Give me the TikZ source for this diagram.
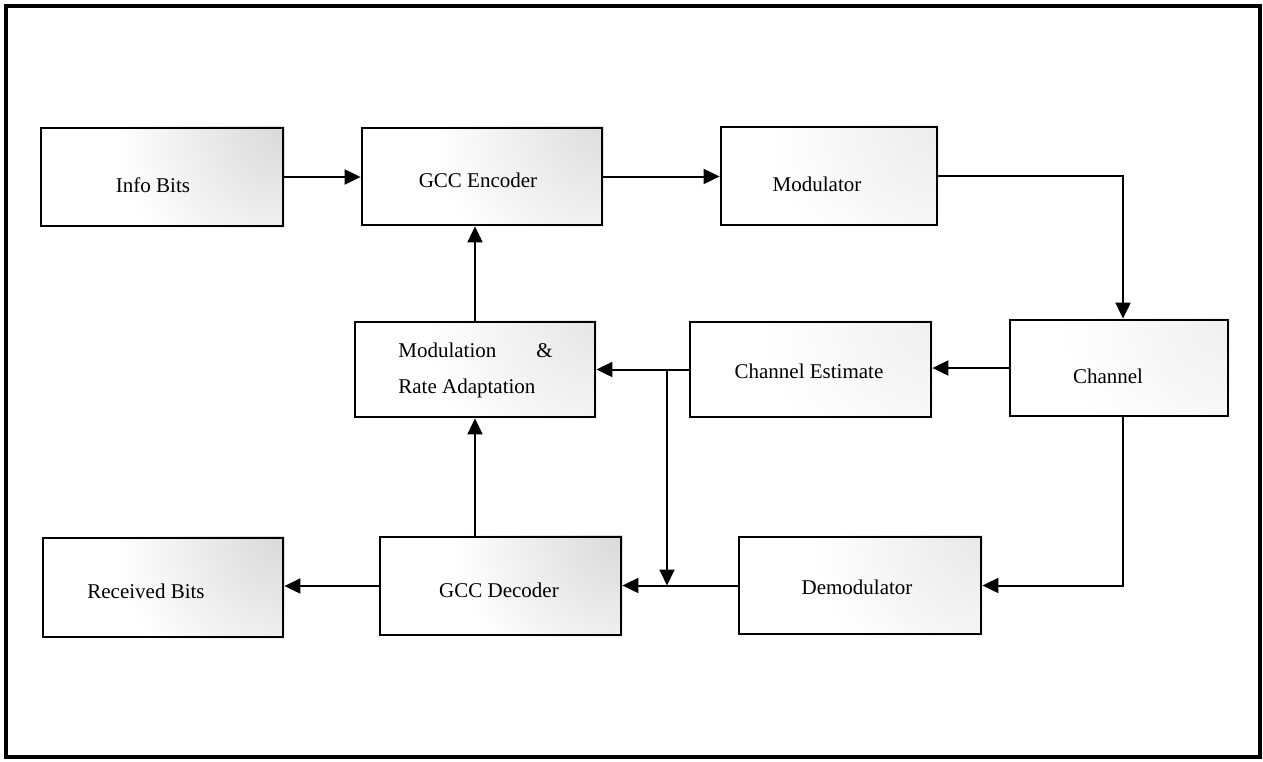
\documentclass[tikz,border=0pt]{standalone}
\usepackage{fontspec}
\setmainfont{Liberation Serif}
\usetikzlibrary{arrows.meta,calc,backgrounds}
\tikzset{
  blk/.style={draw, line width=1.4pt, rectangle, inner sep=0pt},
  lbl/.style={font=\fontsize{10.5}{12}\selectfont, inner sep=0pt, anchor=base},
  lblw/.style={font=\fontsize{10.5}{12}\selectfont, inner sep=0pt, anchor=base west},
  conn/.style={line width=1pt, -{Triangle[length=8pt,width=7.5pt]}},
  frame/.style={line width=1.6pt},
}
\newcommand{\stipple}[2]{%
  \begin{scope}
    \clip (#1.south west) rectangle (#1.north east);
    \shade[inner color=gray!#2, outer color=white] (#1.north east) circle (85pt);
  \end{scope}}
\begin{document}
\begin{tikzpicture}[x=0.5pt,y=-0.5pt]
\useasboundingbox (0,0) rectangle (1263,761);
\draw[frame] (6,6) rectangle (1260,757);

% boxes
\node[blk, minimum width=121pt,   minimum height=49pt]   (info)  at (162,177)     {};
\node[blk, minimum width=120pt,   minimum height=48.5pt] (enc)   at (482,176.5)   {};
\node[blk, minimum width=108pt,   minimum height=49pt]   (mod)   at (829,176)     {};
\node[blk, minimum width=109pt,   minimum height=48pt]   (chan)  at (1119,368)    {};
\node[blk, minimum width=120.5pt, minimum height=47.5pt] (est)   at (810.5,369.5) {};
\node[blk, minimum width=120pt,   minimum height=47.5pt] (mra)   at (475,369.5)   {};
\node[blk, minimum width=120.5pt, minimum height=49pt]   (dec)   at (500.5,586)   {};
\node[blk, minimum width=120pt,   minimum height=49.5pt] (rec)   at (163,587.5)   {};
\node[blk, minimum width=121pt,   minimum height=48.5pt] (demod) at (860,585.5)   {};

% shading of the boxes
\begin{scope}[on background layer]
  \stipple{info}{30}
  \stipple{enc}{26}
  \stipple{mod}{15}
  \stipple{chan}{12}
  \stipple{est}{12}
  \stipple{mra}{20}
  \stipple{dec}{30}
  \stipple{rec}{30}
  \stipple{demod}{18}
\end{scope}

% labels
\node[lbl] (tinfo) at (153,192) {Info Bits};
\node[lbl] (tenc) at (478,187) {GCC Encoder};
\node[lbl] (tmod) at (817,191) {Modulator};
\node[lbl] (tchan) at (1108,383) {Channel};
\node[lbl] (test) at (809,378) {Channel Estimate};
\node[lblw] (tmra1) at (398,357) {Modulation};
\node[lblw] (tamp) at (536,357) {\&};
\node[lblw] (tmra2) at (398,393) {Rate Adaptation};
\node[lbl] (tdec) at (499,597) {GCC Decoder};
\node[lbl] (trec) at (146,598) {Received Bits};
\node[lbl] (tdemod) at (857,594) {Demodulator};

% connector points
\coordinate (cn) at ($(chan.north)+(4,0)$);
\coordinate (cs) at ($(chan.south)+(4,0)$);
\coordinate (br) at (667,369.5);
\coordinate (bj) at (667,585.5);

% connectors
\draw[conn] (info.east) -- (info.east -| enc.west);
\draw[conn] (enc.east) -- (enc.east -| mod.west);
\draw[conn] (mod.east) -| (cn);
\draw[conn] (chan.west) -- (chan.west -| est.east);
\draw[conn] (est.west) -- (est.west -| mra.east);
\draw[conn] (br) -- (bj);
\draw[conn] (cs) |- (demod.east);
\draw[conn] (demod.west) -- (demod.west -| dec.east);
\draw[conn] (dec.west) -- (dec.west -| rec.east);
\draw[conn] (dec.north -| mra.south) -- (mra.south);
\draw[conn] (mra.north) -- (mra.north |- enc.south);
\end{tikzpicture}
\end{document}
